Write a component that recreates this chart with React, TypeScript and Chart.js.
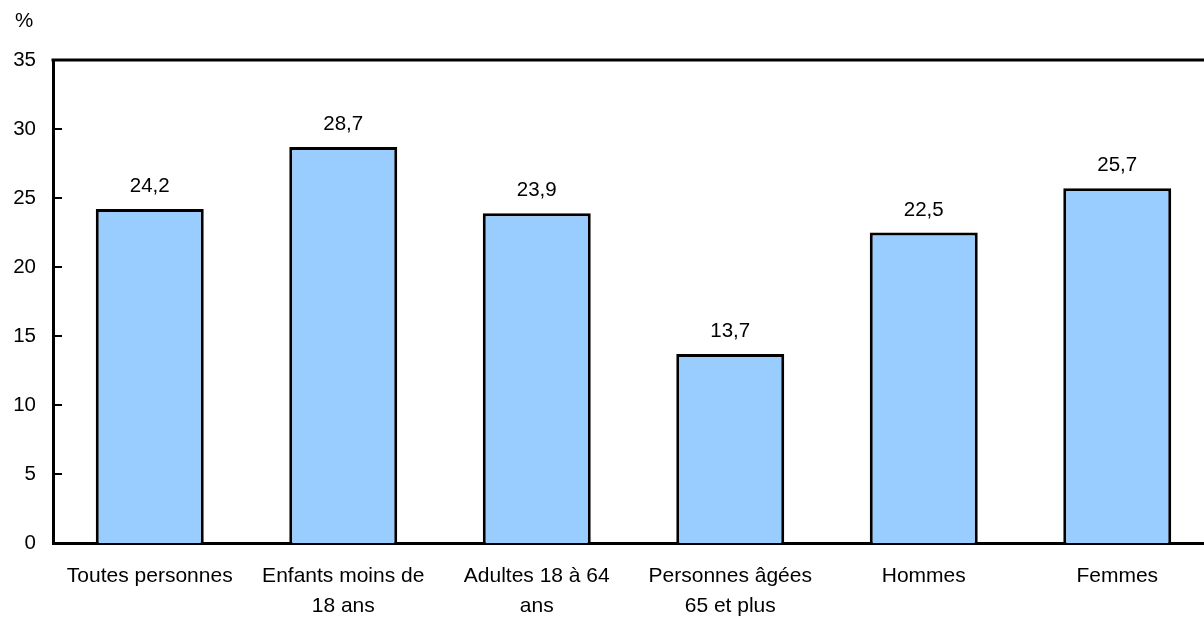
import React, { useEffect, useRef } from "react";
import { Chart, registerables } from "chart.js";

Chart.register(...registerables);

const categories: string[][] = [
  ["Toutes personnes"],
  ["Enfants moins de", "18 ans"],
  ["Adultes 18 à 64", "ans"],
  ["Personnes âgées", "65 et plus"],
  ["Hommes"],
  ["Femmes"],
];
const values: number[] = [24.2, 28.7, 23.9, 13.7, 22.5, 25.7];
const yTicks: number[] = [0, 5, 10, 15, 20, 25, 30, 35];
const unitLabel = "%";

const FONT = "'Liberation Sans', Arial, sans-serif";

const decorPlugin = {
  id: "decor",
  afterDraw(chart: any) {
    const ctx = chart.ctx;
    const area = chart.chartArea;
    const y = chart.scales.y;
    ctx.save();
    // top border
    ctx.strokeStyle = "#000";
    ctx.lineWidth = 3;
    ctx.beginPath();
    ctx.moveTo(area.left - 1.5, area.top);
    ctx.lineTo(area.right, area.top);
    ctx.stroke();
    // inward ticks
    ctx.lineWidth = 2;
    for (const t of yTicks) {
      if (t === 0 || t === 35) continue;
      const py = Math.round(y.getPixelForValue(t));
      ctx.beginPath();
      ctx.moveTo(area.left, py);
      ctx.lineTo(area.left + 9, py);
      ctx.stroke();
    }
    // unit label
    ctx.fillStyle = "#000";
    ctx.font = `20.5px ${FONT}`;
    ctx.textAlign = "left";
    ctx.textBaseline = "middle";
    ctx.fillText(unitLabel, 15, 21);
    // value labels
    const meta = chart.getDatasetMeta(0);
    ctx.textAlign = "center";
    ctx.textBaseline = "alphabetic";
    meta.data.forEach((bar: any, i: number) => {
      const txt = values[i].toFixed(1).replace(".", ",");
      ctx.fillText(txt, bar.x, bar.y - 17);
    });
    ctx.restore();
  },
};

export default function App() {
  const ref = useRef<HTMLCanvasElement>(null);
  useEffect(() => {
    if (!ref.current) return;
    const chart = new Chart(ref.current, {
      type: "bar",
      data: {
        labels: categories,
        datasets: [
          {
            data: values,
            backgroundColor: "#99CCFF",
            borderColor: "#000",
            borderWidth: 3,
            barPercentage: 0.558,
            categoryPercentage: 1,
          },
        ],
      },
      options: {
        responsive: false,
        animation: false,
        layout: { padding: { top: 60, left: 0, right: 0, bottom: 0 } },
        plugins: { legend: { display: false }, tooltip: { enabled: false } },
        scales: {
          x: {
            grid: { display: false, drawTicks: false },
            border: { display: true, color: "#000", width: 3 },
            ticks: {
              color: "#000",
              font: { family: FONT, size: 21, lineHeight: 1.4 },
              padding: 19,
              maxRotation: 0,
              autoSkip: false,
            },
            afterFit(scale: any) {
              scale.height = 74;
            },
          },
          y: {
            min: 0,
            max: 35,
            grid: { display: false, drawTicks: false },
            border: { display: true, color: "#000", width: 3 },
            ticks: {
              stepSize: 5,
              color: "#000",
              font: { family: FONT, size: 20.5 },
              padding: 17,
            },
            afterFit(scale: any) {
              scale.width = 53;
            },
          },
        },
      },
      plugins: [decorPlugin],
    });
    return () => chart.destroy();
  }, []);
  return (
    <div
      style={{
        position: "fixed",
        left: 0,
        top: 0,
        width: 1204,
        height: 617,
        overflow: "hidden",
        background: "#fff",
      }}
    >
      <canvas ref={ref} width={1214} height={617} style={{ width: 1214, height: 617, display: "block" }} />
    </div>
  );
}
